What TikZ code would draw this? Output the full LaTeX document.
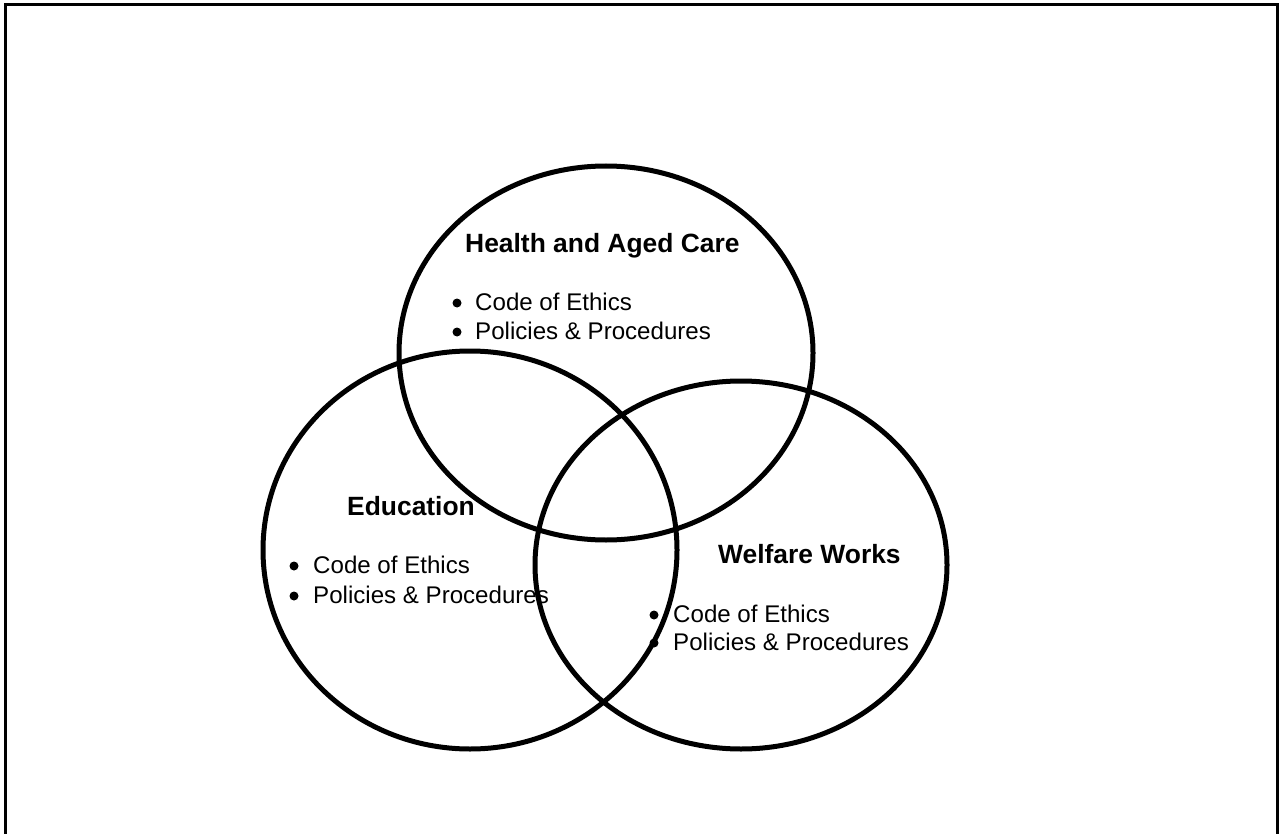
\documentclass[tikz,border=0pt]{standalone}
\usepackage{fontspec}
\setmainfont{Liberation Sans}
\begin{document}
\begin{tikzpicture}[x=1pt,y=-1pt,
  ring/.style={draw=black,line width=5pt},
  title/.style={anchor=base west,inner sep=0pt,font=\fontsize{26.4}{30}\selectfont\bfseries},
  item/.style={anchor=base west,inner sep=0pt,font=\fontsize{24.1}{30}\selectfont},
  bul/.style={circle,fill=black,inner sep=0pt,minimum size=9pt}]
\useasboundingbox (0,0) rectangle (1281,834);
\fill[white] (0,0) rectangle (1281,834);
\draw[line width=3pt] (5,850) -- (5,5) -- (1277,5) -- (1277,850);
% ellipses
\draw[ring] (606,353) ellipse [x radius=207, y radius=187];
\draw[ring] (470,550) ellipse [x radius=207, y radius=199];
\draw[ring] (741,565) ellipse [x radius=206, y radius=184];
% Health
\node[title] (ht) at (465,252) {Health and Aged Care};
\node[bul] (hb1) at (457,303) {};
\node[item] (h1) at (475,310) {Code of Ethics};
\node[bul] (hb2) at (457,332) {};
\node[item] (h2) at (475,339) {Policies \& Procedures};
% Education
\node[title] (et) at (347,515) {Education};
\node[bul] (eb1) at (294,566) {};
\node[item] (e1) at (313,573) {Code of Ethics};
\node[bul] (eb2) at (294,596) {};
\node[item] (e2) at (313,603) {Policies \& Procedures};
% Welfare
\node[title] (wt) at (718,563) {Welfare Works};
\node[bul] (wb1) at (654,615) {};
\node[item] (w1) at (673,622) {Code of Ethics};
\node[bul] (wb2) at (654,643) {};
\node[item] (w2) at (673,650) {Policies \& Procedures};
\end{tikzpicture}
\end{document}
